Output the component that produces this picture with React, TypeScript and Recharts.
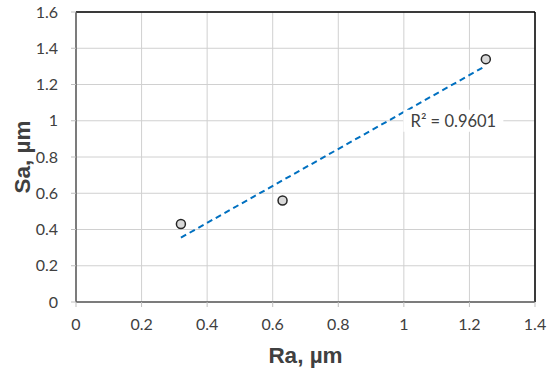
import React from 'react';
import { ScatterChart, Scatter, XAxis, YAxis, CartesianGrid, ReferenceLine, ReferenceDot } from 'recharts';

const raValues = [0.32, 0.63, 1.25];
const saValues = [0.43, 0.56, 1.34];
const trendRa = [0.32, 1.25];
const trendSa = [0.355, 1.303];
const xTicks = [0, 0.2, 0.4, 0.6, 0.8, 1, 1.2, 1.4];
const yTicks = [0, 0.2, 0.4, 0.6, 0.8, 1, 1.2, 1.4, 1.6];
const r2Text = 'R² = 0.9601';
const r2Pos = { x: 1.151, y: 1.0 };
const xTitle = 'Ra, µm';
const yTitle = 'Sa, µm';

const points = raValues.map((x, i) => ({ x, y: saValues[i] }));
const trend = trendRa.map((x, i) => ({ x, y: trendSa[i] }));

const tickFont = { fontFamily: 'Lato, "Liberation Sans", sans-serif', fontSize: 16, fill: '#404040' };
const titleFont = { fontFamily: '"Liberation Sans", Arial, sans-serif', fontSize: 22.5, fontWeight: 700, fill: '#404040' };

const R2Shape = (p: any) => (
  <g>
    <rect x={p.cx - 50} y={p.cy - 11} width={100} height={22} fill="#ffffff" />
    <text x={p.cx} y={p.cy} textAnchor="middle" dominantBaseline="central"
      style={{ fontFamily: 'Lato, "Liberation Sans", sans-serif', fontSize: 16.5 }} fill="#404040">
      {r2Text}
    </text>
  </g>
);

export default function App() {
  return (
    <div style={{ position: 'absolute', left: 0, top: 0, width: 550, height: 377, background: '#fff' }}>
      <ScatterChart width={550} height={377} margin={{ top: 12, right: 15, bottom: 0, left: 0 }}>
        <CartesianGrid stroke="#d0d0d0" strokeWidth={1} />
        <XAxis type="number" dataKey="x" domain={[0, 1.4]} ticks={xTicks} height={75}
          axisLine={{ stroke: '#595959', strokeWidth: 1.5 }} tickLine={{ stroke: '#bfbfbf' }} tickSize={5} tickMargin={12}
          tick={tickFont} interval={0}
          label={{ value: xTitle, position: 'insideBottom', offset: 14, style: titleFont }} />
        <YAxis type="number" dataKey="y" domain={[0, 1.6]} ticks={yTicks} width={76}
          axisLine={{ stroke: '#595959', strokeWidth: 1.5 }} tickLine={{ stroke: '#bfbfbf' }} tickSize={5} tickMargin={13}
          tick={tickFont} interval={0}
          label={{ value: yTitle, angle: -90, position: 'insideLeft', offset: 22, style: { ...titleFont, textAnchor: 'middle' } }} />
        <ReferenceLine y={1.6} stroke="#000" strokeWidth={1.5} />
        <ReferenceLine x={1.4} stroke="#000" strokeWidth={1.5} />
        <Scatter data={trend} isAnimationActive={false} line={{ stroke: '#0070C0', strokeWidth: 2, strokeDasharray: '6 4' }}
          shape={() => null} />
        <Scatter data={points} isAnimationActive={false} fill="#d9d9d9" stroke="#262626" strokeWidth={1.5}
          shape={(p: any) => <circle cx={p.cx} cy={p.cy} r={4.5} fill="#d9d9d9" stroke="#262626" strokeWidth={1.5} />} />
        <ReferenceDot x={r2Pos.x} y={r2Pos.y} r={0} shape={R2Shape} />
      </ScatterChart>
    </div>
  );
}
